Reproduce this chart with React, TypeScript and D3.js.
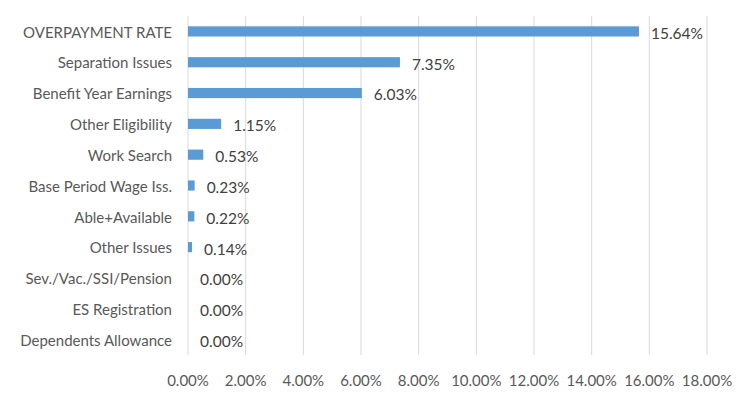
import React, { useEffect, useRef } from 'react';
import * as d3 from 'd3';

const categories = [
  'OVERPAYMENT RATE',
  'Separation Issues',
  'Benefit Year Earnings',
  'Other Eligibility',
  'Work Search',
  'Base Period Wage Iss.',
  'Able+Available',
  'Other Issues',
  'Sev./Vac./SSI/Pension',
  'ES Registration',
  'Dependents Allowance',
];
const rates = [15.64, 7.35, 6.03, 1.15, 0.53, 0.23, 0.22, 0.14, 0, 0, 0];
const ticks = [0, 2, 4, 6, 8, 10, 12, 14, 16, 18];

export default function App() {
  const ref = useRef<SVGSVGElement>(null);

  useEffect(() => {
    const width = 750;
    const height = 397;
    const margin = { top: 16, right: 43, bottom: 42, left: 188 };
    const font = 'Lato, "Open Sans", sans-serif';

    const svg = d3.select(ref.current);
    svg.selectAll('*').remove();

    const x = d3.scaleLinear().domain([0, 18]).range([margin.left, width - margin.right]);
    const y = d3.scaleBand()
      .domain(categories)
      .range([margin.top, height - margin.bottom])
      .paddingInner(0.67)
      .paddingOuter(0.335);

    // gridlines
    svg.append('g')
      .selectAll('line')
      .data(ticks)
      .join('line')
      .attr('x1', d => x(d))
      .attr('x2', d => x(d))
      .attr('y1', margin.top)
      .attr('y2', height - margin.bottom)
      .attr('stroke', '#d9d9d9')
      .attr('stroke-width', 1);

    // tick labels
    svg.append('g')
      .selectAll('text')
      .data(ticks)
      .join('text')
      .attr('x', d => x(d))
      .attr('y', 386)
      .attr('text-anchor', 'middle')
      .attr('font-family', font)
      .attr('font-size', 15)
      .attr('fill', '#595959')
      .text(d => d.toFixed(2) + '%');

    // bars
    svg.append('g')
      .selectAll('rect')
      .data(rates)
      .join('rect')
      .attr('x', x(0))
      .attr('y', (d, i) => y(categories[i])!)
      .attr('width', d => x(d) - x(0))
      .attr('height', y.bandwidth())
      .attr('fill', '#5b9bd5');

    // category labels
    svg.append('g')
      .selectAll('text')
      .data(categories)
      .join('text')
      .attr('x', 172)
      .attr('y', d => y(d)! + y.bandwidth() / 2 + 1)
      .attr('dy', '0.35em')
      .attr('text-anchor', 'end')
      .attr('font-family', font)
      .attr('font-size', 15)
      .attr('fill', '#595959')
      .text(d => d);

    // value labels
    svg.append('g')
      .selectAll('text')
      .data(rates)
      .join('text')
      .attr('x', d => x(d) + 12)
      .attr('y', (d, i) => y(categories[i])! + y.bandwidth() / 2 + 2)
      .attr('dy', '0.35em')
      .attr('font-family', font)
      .attr('font-size', 15.5)
      .attr('fill', '#404040')
      .text(d => d.toFixed(2) + '%');
  }, []);

  return (
    <svg ref={ref} width={750} height={397} style={{ position: 'absolute', left: 0, top: 0 }}></svg>
  );
}
